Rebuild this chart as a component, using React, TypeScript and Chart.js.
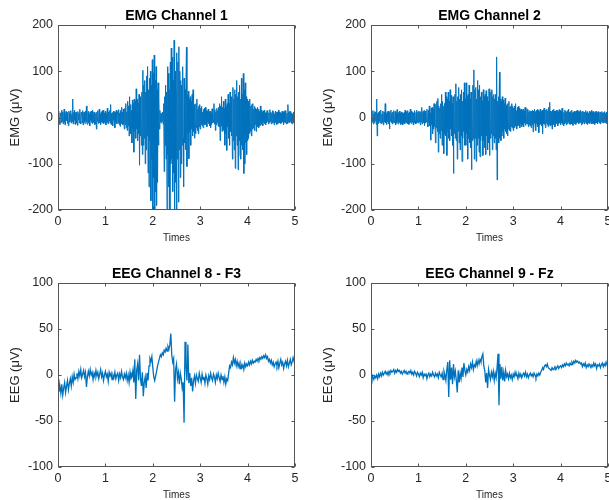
import React, { useEffect, useRef } from "react";
import { Chart, registerables } from "chart.js";

Chart.register(...registerables);

const EMG_STEP = 0.01; // seconds between EMG samples
const EEG_STEP = 0.02; // seconds between EEG samples
const X_TICKS = [0, 1, 2, 3, 4, 5];
const EMG_Y_TICKS = [-200, -100, 0, 100, 200];
const EEG_Y_TICKS = [-100, -50, 0, 50, 100];

const emg1 = [
  8, -12, 14, -6, -15, 10, 3, -11, 16, -9,
  12, -14, 5, 18, -10, -16, 9, 13, -7, 11,
  -13, 6, -18, 14, 9, -10, -4, 15, -12, 7,
  -9, 40, -14, 11, -6, 16, -15, 8, 12, -13,
  10, -17, 13, -5, 9, -12, 18, -8, -14, 11,
  6, -11, 15, -16, 8, 12, -9, -13, 14, -7,
  25, -10, -15, 9, 13, -12, 7, -18, 11, -6,
  14, -9, -13, 16, -11, 8, 12, -16, 10, -14,
  9, -25, 12, -8, 15, -13, -6, 18, -11, 7,
  -15, 11, -9, 14, -12, 16, -7, -13, 10, -10,
  13, -16, 8, -11, 20, -9, -14, 12, -8, 15,
  -12, 28, -15, 9, -13, 11, -18, 14, -6, 10,
  -22, 12, -10, 16, -14, 8, 13, -12, 17, -15,
  10, -19, 15, -9, 22, -13, 11, -16, 18, -11,
  -25, 20, -15, 30, -22, 12, -28, 35, -18, 25,
  -40, 45, -20, 28, -35, 15, -55, 38, -25, 30,
  -75, 40, -30, 35, -45, 62, -25, 40, -50, 30,
  -35, 50, -103, 45, -40, 30, -60, 55, -80, 102,
  -60, 70, -45, 80, -100, 55, -70, 90, -40, 110,
  -120, 60, -150, 85, -50, 100, -180, 70, -90, 125,
  -200, 95, -130, 135, -210, 80, -160, 110, -190, 60,
  -140, 75, -60, 40, -25, 15, -10, 8, -12, 10,
  -8, 12, -15, 30, -117, 45, -60, 70, -90, 55,
  -205, 110, -80, 95, -150, 60, -210, 120, -100, 150,
  -90, 130, -160, 80, -120, 167, -205, 100, -140, 60,
  -200, 140, -90, 120, -183, 153, -70, 100, -130, 80,
  -100, 70, -60, 110, -45, -150, 85, -55, 60, -70,
  40, 152, -106, 50, -35, 57, -89, 40, -30, 45,
  -60, 35, -25, 50, -40, 60, -30, 28, -45, 25,
  -35, 30, -22, 40, -28, 18, -35, 25, -20, 28,
  -25, 20, -15, 24, -18, 12, -22, 18, -14, 20,
  -16, 22, -12, 15, -20, 14, -10, 18, -13, 12,
  -18, 14, -22, 10, -15, 19, -12, 16, -10, 30,
  -14, 17, -28, 12, -16, 20, -11, 15, -19, 22,
  -20, 30, -50, 25, -18, 45, -30, 22, -25, 35,
  -28, 20, -60, 40, -35, 25, -71, 30, -20, 50,
  -45, 30, -60, 55, -30, 45, -40, 35, -90, 65,
  -50, 40, -70, 60, -110, 50, -40, 80, -60, 45,
  -113, 55, -50, 70, -80, 40, -90, 85, -60, 50,
  -70, 95, -121, 60, -100, 75, -55, 45, -80, 40,
  -50, 35, -45, 30, -35, 40, -30, 25, -40, 28,
  -25, 30, -22, 18, -28, 24, -15, 20, -30, 18,
  -20, 22, -15, 18, -22, 14, -18, 25, -12, 16,
  -15, 12, -18, 14, -10, 16, -13, 9, -16, 11,
  -12, 15, -9, 13, -14, 10, -11, 17, -8, 12,
  -14, 9, -12, 15, -10, 13, -16, 8, -11, 14,
  -9, 12, -15, 11, -13, 16, -8, 12, -12, 10,
  -13, 10, -11, 14, -9, 12, -15, 13, -10, 15,
  -12, 11, -14, 9, -13, 28, -10, 12, -11, 14,
  -9, 13, -12, 10, -14, 8, -11, 12, -8, 10,
  -8,
];

const emg2 = [
  10, -12, 6, -9, 15, -14, 8, -11, 13, -7,
  12, -15, 40, -40, 9, -13, 11, -8, 14, -12,
  -10, 16, -13, 7, -11, 14, -16, 9, 12, -10,
  30, -12, 8, -15, 11, -9, 14, -13, 10, -25,
  13, -8, 16, -11, 9, -14, 12, -10, 15, -12,
  -9, 13, -16, 10, -12, 17, -8, -14, 11, -10,
  14, -11, 9, -15, 12, -13, 10, -16, 8, -12,
  11, -14, 16, -9, -12, 13, -10, 15, -13, 9,
  -15, 12, -11, 18, -9, -13, 14, -10, 12, -16,
  10, -12, 15, -8, -14, 11, -13, 16, -10, 12,
  -12, 14, -9, 11, -16, 13, -10, 22, -14, 9,
  13, -11, 15, -17, 10, -12, 14, -9, 18, -13,
  -20, 15, -12, 25, -18, 10, -49, 20, -15, 22,
  -35, 18, -25, 30, -20, 15, -55, 28, -22, 35,
  -30, 41, -75, 25, -35, 20, -45, 30, -28, 50,
  -60, 35, -40, 25, -78, 30, -35, 55, -40, 45,
  -82, 40, -30, 55, -45, 35, -50, 60, -25, 48,
  -40, 30, -60, 45, -121, 40, -35, 50, -45, 73,
  -50, 35, -90, 45, -30, 65, -55, 40, -70, 50,
  -40, 60, -95, 35, -45, 55, -30, 75, -60, 40,
  -60, 75, -35, 45, -90, 50, -45, 70, -55, 40,
  -65, 55, -113, 40, -50, 70, -45, 103, -90, 60,
  -45, 65, -95, 40, -60, 80, -45, 60, -75, 70,
  -85, 45, -50, 55, -40, 35, -82, 60, -50, 45,
  -65, 50, -80, 58, -40, 45, -70, 35, -55, 62,
  -82, 40, -45, 55, -35, 60, -70, 45, -40, 50,
  -55, 40, -45, 50, -70, 131, -135, 35, -50, 45,
  -55, 98, -45, 40, -50, 35, -40, 45, -30, 38,
  -45, 30, -25, 42, -30, 25, -35, 28, -40, 30,
  -25, 35, -28, 22, -30, 25, -20, 30, -22, 24,
  -28, 20, -22, 25, -18, 30, -20, 15, -25, 22,
  -18, 24, -15, 20, -22, 16, -14, 18, -20, 15,
  -16, 18, -20, 14, -12, 22, -17, 15, -13, 19,
  -14, 17, -20, 12, -16, 15, -18, 13, -22, 14,
  -15, 16, -31, 14, -12, 18, -16, 13, -28, 15,
  -13, 17, -20, 15, -33, 12, -16, 18, -14, 13,
  -18, 15, -35, 16, -14, 20, -15, 13, -22, 16,
  -12, 18, -16, 14, -20, 22, -15, 33, -18, 14,
  -16, 13, -25, 16, -12, 18, -15, 14, -20, 13,
  -14, 16, -12, 15, -18, 12, -13, 17, -11, 15,
  -16, 14, -12, 20, -15, 13, -18, 11, -14, 16,
  -11, 14, -16, 12, -13, 15, -10, 18, -14, 11,
  -15, 13, -12, 16, -14, 10, -17, 12, -11, 14,
  -13, 11, -15, 14, -12, 16, -10, 13, -14, 12,
  -12, 15, -11, 13, -16, 12, -13, 14, -10, 11,
  -14, 12, -10, 15, -13, 11, -15, 13, -12, 10,
  -11, 14, -13, 12, -10, 15, -14, 11, -12, 13,
  -13, 10, -15, 12, -11, 14, -12, 10, -14, 12,
  -10, 13, -12, 11, -14, 12, -9, 13, -11, 10,
  -12, 11, -10, 13, -11, 9, -13, 12, -10, 11,
  -10,
];

const eeg8 = [
  -5, -18, -12, -20, -10, -22, -14, -8, -19, -12,
  -6, -16, -9, -4, -12, -2, -8, 1, -5, -3,
  2, -4, 4, -1, 6, -3, 1, 5, -2, 3,
  -13, -2, 4, -1, 6, 0, 3, -5, 2, -2,
  5, -1, 3, -4, 1, 6, -2, 2, -6, 0,
  4, -2, 1, -7, 3, -1, 2, -5, 0, -3,
  3, -4, 0, 2, -6, 1, -3, 4, -2, -5,
  1, -3, 2, -6, 0, -8, 3, -4, -2, 5,
  -8, 17, -26, 5, 12, -6, 22, -4, -12, 3,
  -23, -8, -2, -14, 2, -6, 10, 18, 15, 20,
  8, -2, -6, -1, 4, 10, 14, 18, 22, 20,
  24, 22, 27, 25, 29, 26, 31, 28, 33, 45,
  22, 14, 18, -29, 6, 12, -4, 3, -10, 2,
  -4, -14, -8, -52, 36, 10, -6, 33, -9, 2,
  -12, -3, -18, -6, -1, -9, 0, -4, -7, 2,
  -3, -8, 1, -5, -2, -9, 0, -4, -10, -1,
  -5, 2, -3, -6, 1, -2, -8, 0, -4, 2,
  -3, -7, 0, -5, -1, -8, -2, -10, -4, -6,
  2, 10, 8, 14, 11, 19, 13, 17, 10, 15,
  9, 13, 7, 12, 8, 11, 6, 13, 9, 12,
  10, 14, 11, 15, 12, 16, 13, 15, 14, 17,
  15, 18, 16, 19, 17, 20, 18, 21, 19, 22,
  18, 20, 15, 17, 13, 16, 11, 14, 9, 12,
  14, 10, 15, 8, 13, 17, 11, 14, 7, 12,
  15, 10, 16, 9, 13, 17, 11, 14, 19, 15, 20,
];

const eeg9 = [
  1, -4, -2, -5, -1, -3, 0, -4, 1, -2,
  2, -1, 3, 0, 2, 4, 1, 3, 0, 4,
  2, 5, 3, 4, 6, 2, 5, 3, 6, 4,
  5, 2, 4, 1, 3, 5, 2, 4, 1, 3,
  4, 2, 5, 1, 3, 0, 4, 2, -1, 3,
  1, -2, 2, 0, 3, -3, 1, -1, 2, -4,
  0, 2, -2, 1, -1, 3, 0, -2, 2, -1,
  1, -3, 3, 0, -2, 2, -5, 4, 0, -6,
  6, 14, -24, 16, -5, 8, -10, 12, -2, 4,
  -6, -19, 5, -8, 2, -4, 8, -2, 13, 5,
  0, 6, 3, 9, 5, 12, 8, 14, 6, 11,
  9, 15, 10, 16, 12, 17, 14, 20, 23, 10,
  5, -8, 2, -14, 6, 0, -5, 3, -2, 4,
  -6, 2, -3, 8, 23, -33, 12, -4, 9, -6,
  3, -7, 5, -2, 1, -4, 2, -3, 0, -5,
  1, -2, 3, -1, 0, -4, 2, -2, 1, -3,
  0, 2, -1, 3, -2, 1, -3, 0, 2, -1,
  1, -2, 2, 0, -3, 1, -1, 2, 0, 3,
  5, 8, 6, 10, 11, 9, 12, 8, 7, 6,
  5, 8, 6, 7, 9, 6, 8, 10, 7, 9,
  10, 8, 11, 9, 12, 10, 13, 11, 12, 10,
  13, 11, 14, 12, 15, 13, 16, 14, 15, 13,
  14, 12, 13, 9, 12, 10, 13, 8, 11, 9,
  12, 10, 8, 11, 9, 13, 10, 12, 7, 11,
  10, 12, 8, 11, 13, 9, 12, 10, 14, 11, 13,
];

const FONT = "'Liberation Sans', Arial, Helvetica, sans-serif";
const AXIS_COLOR = "#262626";
const LINE_COLOR = "#0072BD";

const framePlugin = {
  id: "frame",
  afterDatasetsDraw(chart: any, _args: any, opts: any) {
    const { ctx, chartArea: a, scales } = chart;
    const xs = scales.x;
    const ys = scales.y;
    ctx.save();
    ctx.strokeStyle = "#555555";
    ctx.lineWidth = 1;
    const L = Math.round(a.left) + 0.5;
    const R = Math.round(a.right) - 0.5;
    const T = Math.round(a.top) + 0.5;
    const B = Math.round(a.bottom) - 0.5;
    ctx.strokeRect(L, T, R - L, B - T);
    ctx.beginPath();
    for (const v of opts.xTicks) {
      const px = Math.round(xs.getPixelForValue(v)) + 0.5;
      ctx.moveTo(px, B);
      ctx.lineTo(px, B - 3);
      ctx.moveTo(px, T);
      ctx.lineTo(px, T + 3);
    }
    for (const v of opts.yTicks) {
      const py = Math.round(ys.getPixelForValue(v)) + 0.5;
      ctx.moveTo(L, py);
      ctx.lineTo(L + 3, py);
      ctx.moveTo(R, py);
      ctx.lineTo(R - 3, py);
    }
    ctx.stroke();
    ctx.fillStyle = "#000000";
    ctx.font = `bold 14px ${FONT}`;
    ctx.textAlign = "center";
    ctx.textBaseline = "middle";
    ctx.fillText(opts.title, (a.left + a.right) / 2, a.top - 8.5);
    ctx.restore();
  },
};

type PanelProps = {
  left: number;
  top: number;
  title: string;
  yLabel: string;
  values: number[];
  step: number;
  yTicks: number[];
  plotHeight: number;
  xTitlePad: number;
  lineWidth: number;
};

function Panel(p: PanelProps) {
  const ref = useRef<HTMLCanvasElement>(null);
  useEffect(() => {
    const H = 250;
    const PLOT_TOP = 25;
    const pts = p.values.map((v, i) => ({ x: +(i * p.step).toFixed(2), y: v }));
    const yMin = p.yTicks[0];
    const yMax = p.yTicks[p.yTicks.length - 1];
    const chart = new Chart(ref.current as HTMLCanvasElement, {
      type: "line",
      data: {
        datasets: [
          {
            data: pts,
            borderColor: LINE_COLOR,
            borderWidth: p.lineWidth,
            pointRadius: 0,
            tension: 0,
            fill: false,
          },
        ],
      },
      options: {
        responsive: false,
        maintainAspectRatio: false,
        animation: false,
        events: [],
        layout: { padding: { left: 0, right: 10, top: PLOT_TOP, bottom: 0 } },
        plugins: {
          legend: { display: false },
          tooltip: { enabled: false },
          frame: { xTicks: X_TICKS, yTicks: p.yTicks, title: p.title },
        } as any,
        scales: {
          x: {
            type: "linear",
            min: 0,
            max: 5,
            grid: { display: false, drawTicks: false },
            border: { display: false },
            ticks: {
              stepSize: 1,
              padding: 4,
              maxRotation: 0,
              autoSkip: false,
              color: AXIS_COLOR,
              font: { family: FONT, size: 12.5 },
            },
            title: {
              display: true,
              text: "Times",
              color: AXIS_COLOR,
              font: { family: FONT, size: 10 },
              padding: { top: 0, bottom: p.xTitlePad },
            },
            afterFit: (s: any) => {
              s.height = H - PLOT_TOP - p.plotHeight;
            },
          },
          y: {
            type: "linear",
            min: yMin,
            max: yMax,
            grid: { display: false, drawTicks: false },
            border: { display: false },
            ticks: {
              stepSize: p.yTicks[1] - p.yTicks[0],
              padding: 5,
              color: AXIS_COLOR,
              font: { family: FONT, size: 12.5 },
            },
            title: {
              display: true,
              text: p.yLabel,
              color: AXIS_COLOR,
              font: { family: FONT, size: 13 },
              padding: { top: 8, bottom: 0 },
            },
            afterFit: (s: any) => {
              s.width = 58;
            },
          },
        },
      } as any,
      plugins: [framePlugin as any],
    });
    return () => chart.destroy();
  }, []);
  return (
    <canvas
      ref={ref}
      width={305}
      height={250}
      style={{ position: "absolute", left: p.left, top: p.top, width: 305, height: 250 }}
    />
  );
}

export default function App() {
  return (
    <div
      style={{
        position: "absolute",
        left: 0,
        top: 0,
        width: 609,
        height: 500,
        overflow: "hidden",
        background: "#ffffff",
      }}
    >
      <Panel left={0} top={0} title="EMG Channel 1" yLabel="EMG (μV)" values={emg1} step={EMG_STEP} yTicks={EMG_Y_TICKS} plotHeight={185} xTitlePad={6} lineWidth={1} />
      <Panel left={313} top={0} title="EMG Channel 2" yLabel="EMG (μV)" values={emg2} step={EMG_STEP} yTicks={EMG_Y_TICKS} plotHeight={185} xTitlePad={6} lineWidth={1} />
      <Panel left={0} top={258} title="EEG Channel 8 - F3" yLabel="EEG (μV)" values={eeg8} step={EEG_STEP} yTicks={EEG_Y_TICKS} plotHeight={184} xTitlePad={7} lineWidth={1.3} />
      <Panel left={313} top={258} title="EEG Channel 9 - Fz" yLabel="EEG (μV)" values={eeg9} step={EEG_STEP} yTicks={EEG_Y_TICKS} plotHeight={184} xTitlePad={7} lineWidth={1.3} />
    </div>
  );
}
